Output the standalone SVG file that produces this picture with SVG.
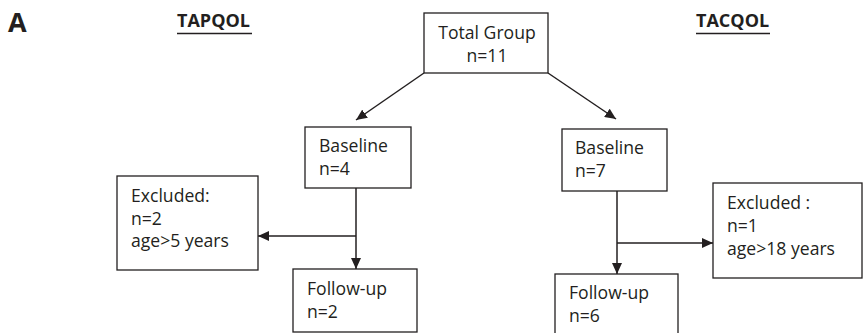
<svg xmlns="http://www.w3.org/2000/svg" width="865" height="333" viewBox="0 0 865 333">
<style>
.box{fill:#fff;stroke:#231f20;stroke-width:1.3}
.t{font-family:"Open Sans","Noto Sans","Liberation Sans",sans-serif;font-size:17.6px;fill:#231f20}
.h{font-family:"Open Sans","Noto Sans","Liberation Sans",sans-serif;font-weight:bold;font-size:18px;fill:#231f20}
.c{fill:none;stroke:#231f20;stroke-width:1.5}
</style>
<defs>
<marker id="ah" markerUnits="userSpaceOnUse" markerWidth="12" markerHeight="10" refX="11" refY="5" orient="auto">
<path d="M0,0 L11,5 L0,10 Z" fill="#231f20"/>
</marker>
</defs>
<rect width="865" height="333" fill="#fff"/>
<g id="labels">
<text x="8" y="32" font-family="Open Sans, Noto Sans, Liberation Sans, sans-serif" font-weight="bold" font-size="27" fill="#231f20">A</text>
<text class="h" x="177" y="27">TAPQOL</text>
<line x1="177" y1="33.5" x2="252" y2="33.5" stroke="#231f20" stroke-width="1.5"/>
<text class="h" x="696" y="27">TACQOL</text>
<line x1="696" y1="33.5" x2="770" y2="33.5" stroke="#231f20" stroke-width="1.5"/>
</g>
<g id="connectors">
<line class="c" x1="424" y1="73" x2="356" y2="120" marker-end="url(#ah)"/>
<line class="c" x1="548" y1="73" x2="616" y2="119" marker-end="url(#ah)"/>
<line class="c" x1="356" y1="188" x2="356" y2="269" marker-end="url(#ah)"/>
<line class="c" x1="356" y1="236" x2="258" y2="236" marker-end="url(#ah)"/>
<line class="c" x1="617" y1="191" x2="617" y2="274" marker-end="url(#ah)"/>
<line class="c" x1="617" y1="243" x2="713" y2="243" marker-end="url(#ah)"/>
</g>
<g id="total">
<rect class="box" x="424" y="13" width="124" height="60"/>
<text class="t" x="487" y="39" text-anchor="middle">Total Group</text>
<text class="t" x="487" y="62" text-anchor="middle">n=11</text>
</g>
<g id="baseline-left">
<rect class="box" x="305" y="127" width="106" height="61"/>
<text class="t" x="319" y="152">Baseline</text>
<text class="t" x="319" y="175">n=4</text>
</g>
<g id="excluded-left">
<rect class="box" x="117" y="176" width="141" height="94"/>
<text class="t" x="131" y="202">Excluded:</text>
<text class="t" x="131" y="225">n=2</text>
<text class="t" x="131" y="247">age&gt;5 years</text>
</g>
<g id="followup-left">
<rect class="box" x="293" y="269" width="124" height="63"/>
<text class="t" x="307" y="295">Follow-up</text>
<text class="t" x="307" y="318">n=2</text>
</g>
<g id="baseline-right">
<rect class="box" x="562" y="129" width="105" height="62"/>
<text class="t" x="575" y="154">Baseline</text>
<text class="t" x="575" y="177">n=7</text>
</g>
<g id="excluded-right">
<rect class="box" x="713" y="183" width="149" height="95"/>
<text class="t" x="727" y="209">Excluded :</text>
<text class="t" x="727" y="232">n=1</text>
<text class="t" x="727" y="255">age&gt;18 years</text>
</g>
<g id="followup-right">
<rect class="box" x="555" y="274" width="123" height="70"/>
<text class="t" x="569" y="299">Follow-up</text>
<text class="t" x="569" y="322">n=6</text>
</g>
</svg>
